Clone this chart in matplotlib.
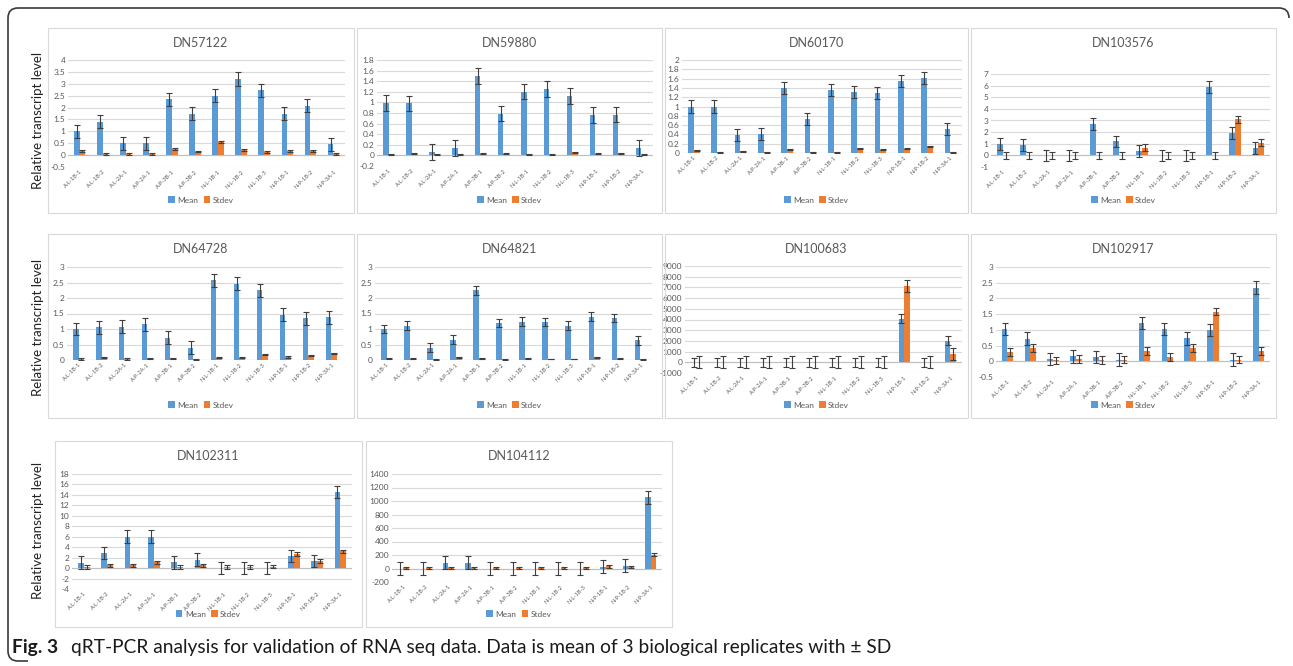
import numpy as np
import matplotlib
matplotlib.use("Agg")
import matplotlib.pyplot as plt
from matplotlib.patches import Rectangle, PathPatch
from matplotlib.path import Path
from matplotlib.ticker import FuncFormatter

plt.rcParams['font.family'] = ['Lato', 'DejaVu Sans']

samples = ["A-L-1B-1", "A-L-1B-2", "A-L-2A-1", "A-P-2A-1", "A-P-3B-1", "A-P-3B-2",
           "N-L-1B-1", "N-L-1B-2", "N-L-1B-3", "N-P-1B-1", "N-P-1B-2", "N-P-3A-1"]

genes = ["DN57122", "DN59880", "DN60170", "DN103576", "DN64728",
         "DN64821", "DN100683", "DN102917", "DN102311", "DN104112"]

mean_DN57122 = [1.0, 1.4, 0.5, 0.5, 2.35, 1.75, 2.5, 3.2, 2.73, 1.74, 2.08, 0.45]
sd_DN57122 = [0.18, 0.06, 0.05, 0.06, 0.26, 0.15, 0.55, 0.22, 0.12, 0.18, 0.16, 0.04]
mean_DN59880 = [0.99, 0.98, 0.065, 0.14, 1.5, 0.79, 1.2, 1.25, 1.12, 0.76, 0.77, 0.14]
sd_DN59880 = [0.02, 0.04, 0.02, 0.02, 0.03, 0.03, 0.02, 0.01, 0.06, 0.03, 0.04, 0.01]
mean_DN60170 = [1.0, 1.0, 0.39, 0.40, 1.39, 0.73, 1.36, 1.31, 1.30, 1.54, 1.61, 0.52]
sd_DN60170 = [0.06, 0.02, 0.04, 0.02, 0.08, 0.02, 0.02, 0.10, 0.07, 0.09, 0.14, 0.02]
mean_DN103576 = [1.0, 0.89, 0, 0, 2.7, 1.2, 0.4, 0, 0, 5.87, 1.95, 0.63]
sd_DN103576 = [0, 0, 0, 0, 0, 0, 0.65, 0, 0, 0, 3.1, 1.1]
mean_DN64728 = [1.0, 1.05, 1.08, 1.15, 0.72, 0.4, 2.57, 2.46, 2.25, 1.46, 1.35, 1.38]
sd_DN64728 = [0.03, 0.08, 0.03, 0.06, 0.05, 0.02, 0.07, 0.07, 0.17, 0.10, 0.14, 0.21]
mean_DN64821 = [1.0, 1.11, 0.4, 0.66, 2.25, 1.19, 1.24, 1.23, 1.11, 1.4, 1.35, 0.64]
sd_DN64821 = [0.04, 0.04, 0.02, 0.09, 0.06, 0.02, 0.05, 0.03, 0.03, 0.09, 0.04, 0.02]
mean_DN100683 = [0, 0, 0, 0, 0, 0, 0, 0, 0, 4050, 0, 2000]
sd_DN100683 = [0, 0, 0, 0, 0, 0, 0, 0, 0, 7100, 0, 800]
mean_DN102917 = [1.03, 0.72, 0.07, 0.16, 0.13, 0.05, 1.22, 1.03, 0.73, 0.99, 0.05, 2.34]
sd_DN102917 = [0.30, 0.42, 0.03, 0.07, 0.04, 0.05, 0.32, 0.13, 0.42, 1.58, 0.05, 0.33]
mean_DN102311 = [1.05, 2.9, 6.0, 6.0, 1.1, 1.6, 0, 0, 0, 2.27, 1.37, 14.6]
sd_DN102311 = [0.2, 0.5, 0.5, 1.1, 0.2, 0.5, 0.2, 0.2, 0.3, 2.7, 1.3, 3.2]
mean_DN104112 = [0, 0, 85, 85, 0, 0, 0, 0, 0, 25, 40, 1055]
sd_DN104112 = [10, 10, 10, 10, 10, 10, 10, 10, 10, 30, 25, 205]

# error bar size per series (same for every bar of a series)
mean_err = [0.28, 0.145, 0.13, 0.5, 0.205, 0.14, 420, 0.2, 1.2, 98]
sd_err = [0.04, 0.01, 0.012, 0.3, 0.02, 0.012, 560, 0.12, 0.35, 18]

y_ranges = [(-0.5, 4, 0.5), (-0.2, 1.8, 0.2), (0, 2, 0.2), (-1, 7, 1), (0, 3, 0.5),
            (0, 3, 0.5), (-1000, 9000, 1000), (-0.5, 3, 0.5), (-4, 18, 2), (-200, 1400, 200)]

means = [mean_DN57122, mean_DN59880, mean_DN60170, mean_DN103576, mean_DN64728,
         mean_DN64821, mean_DN100683, mean_DN102917, mean_DN102311, mean_DN104112]
sds = [sd_DN57122, sd_DN59880, sd_DN60170, sd_DN103576, sd_DN64728,
       sd_DN64821, sd_DN100683, sd_DN102917, sd_DN102311, sd_DN104112]

# chart boxes and plot areas in pixels (left, top, right, bottom)
boxes = [(48, 28, 354, 213), (357, 28, 662, 213), (665, 28, 968, 213), (971, 28, 1276, 213),
         (48, 234, 354, 418), (357, 234, 662, 418), (665, 234, 968, 418), (971, 234, 1276, 418),
         (55, 441, 362, 627), (366, 441, 672, 627)]
plots = [(68, 60, 345, 167), (377, 60, 653, 166), (682, 60, 962, 153), (991, 74, 1270, 167),
         (67, 267, 343, 360), (375, 267, 652, 360), (685, 266, 962, 373), (996, 267, 1270, 377),
         (72, 474, 352, 589), (392, 474, 662, 582)]

W, H = 1293, 666
BLUE = "#5B9BD5"
ORANGE = "#ED7D31"
GRID = "#D9D9D9"
TXT = "#595959"


def frac(x0, y0, x1, y1):
    return [x0 / W, 1 - y1 / H, (x1 - x0) / W, (y1 - y0) / H]


fig = plt.figure(figsize=(W / 100, H / 100), dpi=100)

# rounded frame on the left and top
r = 10
L, T, R, B = 8, 8, 1289, 661
pts = [(R, T + r), (R, T), (R - r, T), (L + r, T), (L, T), (L, T + r),
       (L, B - r), (L, B), (L + r, B), (L + 20, B)]
codes = [Path.MOVETO, Path.CURVE3, Path.CURVE3, Path.LINETO, Path.CURVE3, Path.CURVE3,
         Path.LINETO, Path.CURVE3, Path.CURVE3, Path.LINETO]
verts = [(x / W, 1 - y / H) for x, y in pts]
fig.patches.append(PathPatch(Path(verts, codes), transform=fig.transFigure,
                             fill=False, edgecolor="#3a3a3a", lw=1.2))

x = np.arange(len(samples))
bw = 0.25
fmt = FuncFormatter(lambda v, p: "{:g}".format(round(v, 6)))

for i, gene in enumerate(genes):
    bx0, by0, bx1, by1 = boxes[i]
    fig.patches.append(Rectangle((bx0 / W, 1 - by1 / H), (bx1 - bx0) / W, (by1 - by0) / H,
                                 transform=fig.transFigure, fill=False,
                                 edgecolor=GRID, lw=0.8))
    ax = fig.add_axes(frac(*plots[i]))
    lo, hi, step = y_ranges[i]
    ax.set_ylim(lo, hi)
    ax.set_xlim(-0.5, len(samples) - 0.5)
    ax.set_yticks(np.arange(lo, hi + step / 2, step))
    ax.yaxis.set_major_formatter(fmt)
    ax.set_axisbelow(True)
    ax.grid(axis="y", color=GRID, lw=0.8)
    ax.axhline(0, color="#BFBFBF", lw=0.8, zorder=1)
    for s in ax.spines.values():
        s.set_visible(False)

    ax.bar(x - bw / 2, means[i], bw, color=BLUE, label="Mean", zorder=2)
    ax.bar(x + bw / 2, sds[i], bw, color=ORANGE, label="Stdev", zorder=2)
    ax.errorbar(x - bw / 2, means[i], yerr=mean_err[i], fmt="none", ecolor="#3f3f3f",
                elinewidth=0.8, capsize=2, capthick=0.8, zorder=3)
    ax.errorbar(x + bw / 2, sds[i], yerr=sd_err[i], fmt="none", ecolor="#3f3f3f",
                elinewidth=0.8, capsize=2, capthick=0.8, zorder=3)

    ax.set_xticks(x)
    ax.set_xticklabels(samples, rotation=45, ha="right", rotation_mode="anchor",
                       fontsize=4.1, color=TXT)
    ax.tick_params(axis="x", length=0, pad=1.5)
    ax.tick_params(axis="y", length=0, pad=2, labelsize=6, labelcolor=TXT)

    cx = (bx0 + bx1) / 2 / W
    fig.text(cx, 1 - (by0 + 15) / H, gene, ha="center", va="center", fontsize=9, color=TXT)
    ax.legend(loc="center", bbox_to_anchor=(cx, 1 - (by1 - 13) / H),
              bbox_transform=fig.transFigure, ncol=2, frameon=False, fontsize=6,
              handlelength=0.8, handleheight=0.8, handletextpad=0.3, columnspacing=0.6,
              labelcolor=TXT)

for yc in (120, 327, 530):
    fig.text(38 / W, 1 - yc / H, "Relative transcript level", rotation=90,
             ha="center", va="center", fontsize=9.5, color="#222222")

fig.text(12 / W, 1 - 648 / H, "Fig. 3", fontsize=13.8, fontweight="bold",
         ha="left", va="center", color="#1a1a1a")
fig.text(71 / W, 1 - 648 / H,
         "qRT-PCR analysis for validation of RNA seq data. Data is mean of 3 biological replicates with \u00b1 SD",
         fontsize=13.8, ha="left", va="center", color="#1a1a1a")

fig.savefig("out.png", dpi=100)
